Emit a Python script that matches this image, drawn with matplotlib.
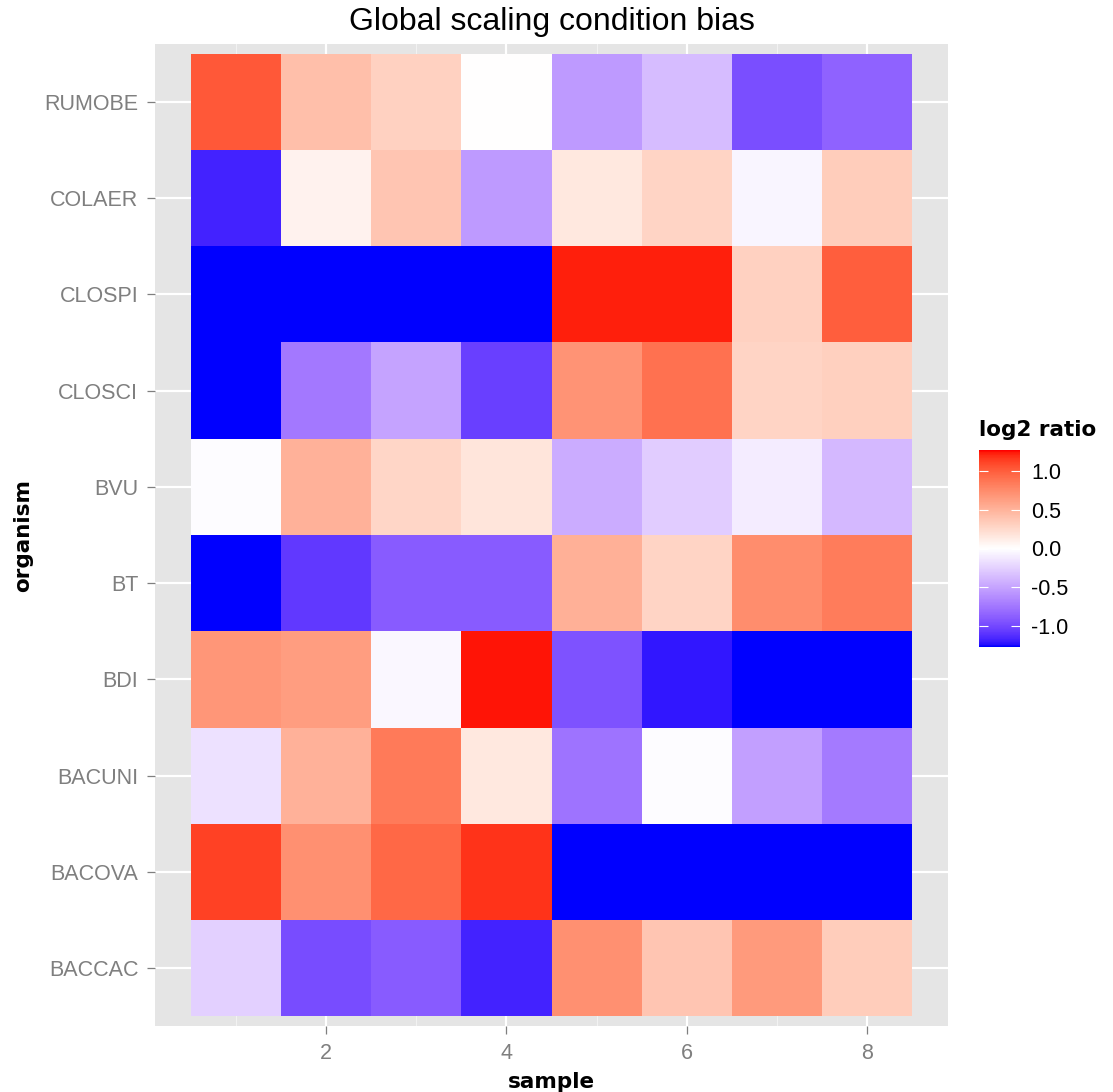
import numpy as np
import matplotlib
matplotlib.use("Agg")
import matplotlib.pyplot as plt
from matplotlib.colors import ListedColormap, Normalize

organisms = ["BACCAC", "BACOVA", "BACUNI", "BDI", "BT", "BVU",
             "CLOSCI", "CLOSPI", "COLAER", "RUMOBE"]
samples = [1, 2, 3, 4, 5, 6, 7, 8]

# log2 ratio per organism, samples 1..8
baccac = [-0.25, -0.98, -0.90, -1.18, 0.72, 0.38, 0.66, 0.33]
bacova = [1.13, 0.72, 0.95, 1.18, -1.27, -1.27, -1.27, -1.27]
bacuni = [-0.16, 0.51, 0.85, 0.15, -0.77, -0.01, -0.52, -0.73]
bdi = [0.68, 0.64, -0.04, 1.25, -0.95, -1.22, -1.27, -1.27]
bt = [-1.27, -1.08, -0.90, -0.90, 0.52, 0.28, 0.74, 0.84]
bvu = [-0.01, 0.51, 0.27, 0.17, -0.45, -0.27, -0.10, -0.38]
closci = [-1.27, -0.74, -0.50, -1.05, 0.70, 0.90, 0.28, 0.31]
clospi = [-1.27, -1.27, -1.27, -1.27, 1.23, 1.23, 0.30, 1.00]
colaer = [-1.18, 0.08, 0.38, -0.55, 0.15, 0.28, -0.05, 0.33]
rumobe = [1.03, 0.42, 0.30, 0.0, -0.55, -0.36, -0.97, -0.86]

values = np.array([baccac, bacova, bacuni, bdi, bt, bvu,
                   closci, clospi, colaer, rumobe])


# blue - white - red gradient interpolated in Lab, like ggplot's gradient2
M = np.array([[0.4124, 0.3576, 0.1805],
              [0.2126, 0.7152, 0.0722],
              [0.0193, 0.1192, 0.9505]])
WP = np.array([0.95047, 1.0, 1.08883])


def to_lab(rgb):
    c = np.array(rgb, dtype=float)
    c = np.where(c > 0.04045, ((c + 0.055) / 1.055) ** 2.4, c / 12.92)
    xyz = M @ c / WP
    f = np.where(xyz > 0.008856, np.cbrt(xyz), 7.787 * xyz + 16 / 116)
    return np.array([116 * f[1] - 16, 500 * (f[0] - f[1]), 200 * (f[1] - f[2])])


def from_lab(lab):
    fy = (lab[0] + 16) / 116
    f = np.array([fy + lab[1] / 500, fy, fy - lab[2] / 200])
    xyz = np.where(f ** 3 > 0.008856, f ** 3, (f - 16 / 116) / 7.787) * WP
    c = np.linalg.solve(M, xyz)
    c = np.where(c > 0.0031308, 1.055 * np.clip(c, 0, None) ** (1 / 2.4) - 0.055, 12.92 * c)
    return np.clip(c, 0, 1)


lab_b, lab_w, lab_r = to_lab([0, 0, 1]), to_lab([1, 1, 1]), to_lab([1, 0, 0])
cols = []
for t in np.linspace(-1, 1, 256):
    end = lab_b if t < 0 else lab_r
    cols.append(from_lab(lab_w + abs(t) * (end - lab_w)))
cmap = ListedColormap(cols)
norm = Normalize(vmin=-1.27, vmax=1.27)

W, H = 1113, 1092
fig = plt.figure(figsize=(W / 100, H / 100), dpi=100)
ax = fig.add_axes([155 / W, 1 - 1026 / H, 793 / W, 982 / H])
ax.set_facecolor("#E5E5E5")
for s in ax.spines.values():
    s.set_visible(False)

ax.set_xlim(0.1, 8.9)
ax.set_ylim(0.4, 10.6)
for x in [1, 3, 5, 7]:
    ax.axvline(x, color="#F2F2F2", lw=0.8, zorder=0)
for x in [2, 4, 6, 8]:
    ax.axvline(x, color="white", lw=1.6, zorder=0)
for y in range(1, len(organisms) + 1):
    ax.axhline(y, color="white", lw=1.6, zorder=0)

xe = np.arange(len(samples) + 1) + 0.5
ye = np.arange(len(organisms) + 1) + 0.5
mesh = ax.pcolormesh(xe, ye, values, cmap=cmap, norm=norm, zorder=1)

ax.set_xticks([2, 4, 6, 8])
ax.set_yticks(range(1, len(organisms) + 1))
ax.set_yticklabels(organisms)
ax.tick_params(axis="both", length=6, width=0.9, color="#7F7F7F", pad=6,
               labelsize=15.5, labelcolor="#7F7F7F")
for lab in ax.get_xticklabels() + ax.get_yticklabels():
    lab.set_family("Liberation Sans")

ax.set_xlabel("sample", fontsize=15.5, fontweight="bold", family="DejaVu Sans", labelpad=6)
ax.set_ylabel("organism", fontsize=15.5, fontweight="bold", family="DejaVu Sans", labelpad=8)
ax.set_title("Global scaling condition bias", fontsize=23, family="Liberation Sans", pad=10)

cax = fig.add_axes([979 / W, 1 - 647 / H, 41 / W, 197 / H])
cb = fig.colorbar(mesh, cax=cax, ticks=[-1.0, -0.5, 0.0, 0.5, 1.0])
cb.outline.set_visible(False)
cb.ax.set_yticklabels(["-1.0", "-0.5", "0.0", "0.5", "1.0"])
cax.tick_params(direction="in", left=True, right=True, length=6.5, width=0.8,
                color="white", labelsize=15.5, pad=8, labelcolor="black")
for lab in cax.get_yticklabels():
    lab.set_family("Liberation Sans")
fig.text(979 / W, 1 - 430 / H, "log2 ratio", fontsize=15.5, fontweight="bold",
         family="DejaVu Sans", va="center", ha="left")

fig.savefig("out.png", dpi=100)
